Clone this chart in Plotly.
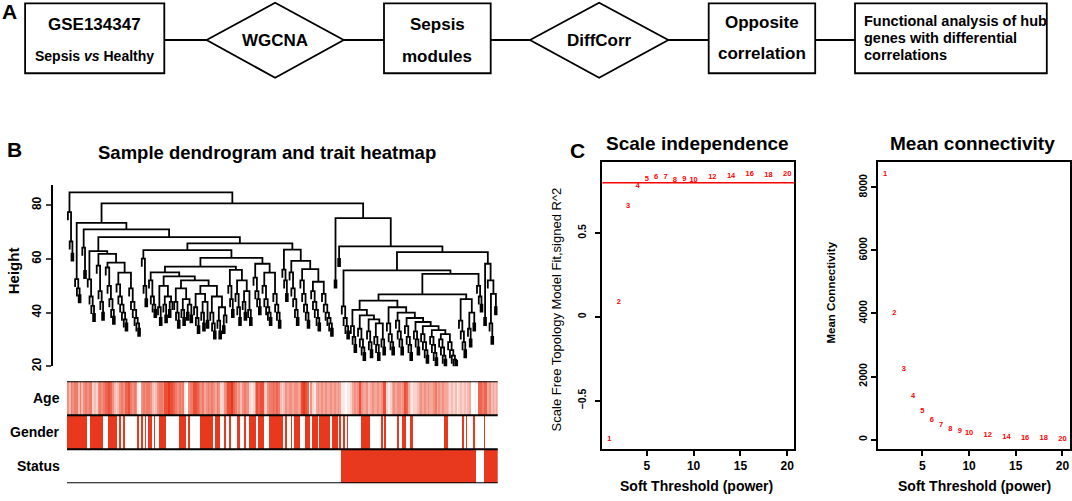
import plotly.graph_objects as go

# ------------------------------------------------------------------ DATA
# Panel C: soft-threshold analysis
POWERS = [1, 2, 3, 4, 5, 6, 7, 8, 9, 10, 12, 14, 16, 18, 20]
SFT_R2 = [-0.728, 0.089, 0.657, 0.777, 0.820, 0.832, 0.830, 0.816, 0.822, 0.815,
          0.834, 0.840, 0.850, 0.842, 0.852]
MEAN_K = [8425, 4000, 2239, 1382, 911, 628, 461, 336, 262, 210, 126, 73, 52, 31, 22]
R2_CUT = 0.8

SI_XTICKS = [5, 10, 15, 20]
SI_YTICKS = [-0.5, 0, 0.5]
MC_YTICKS = [0, 2000, 4000, 6000, 8000]
DENDRO_YTICKS = [20, 40, 60, 80]

# Panel A: flow chart texts
FLOW_BOX1 = ["GSE134347", "Sepsis <i>vs</i> Healthy"]
FLOW_DIAMOND1 = "WGCNA"
FLOW_BOX2 = ["Sepsis", "modules"]
FLOW_DIAMOND2 = "DiffCorr"
FLOW_BOX3 = ["Opposite", "correlation"]
FLOW_BOX4 = ["Functional analysis of hub", "genes with differential", "correlations"]

# Panel B: trait heatmap (one value per sample, in dendrogram order)
TRAIT_NAMES = ["Status", "Gender", "Age"]
AGE_LEVELS = ("5365663635" "6566232565" "6778753235" "6577865651" "0565665323"
              "5665889887" "6565610566" "8876564565" "6546522568" "8976453565"
              "5212587883" "2566767632" "3545545545" "8987052145" "4545445454"
              "5411011245" "4585445345" "4454588212" "4545545874" "2122345454"
              "5445645454" "4323231232" "3234001077" "677453434")
GENDER_FIRST = 1
GENDER_RUNS = [11, 2, 7, 3, 5, 1, 1, 1, 1, 7,
               1, 1, 1, 1, 1, 1, 2, 1, 1, 2,
               4, 7, 4, 1, 1, 6,
               7, 1, 3, 2, 1, 2, 1, 3, 2, 2, 1, 2, 4, 1, 3, 3,
               8, 1, 1, 2, 1, 1, 3, 3, 3, 1, 3, 1, 6, 1, 3, 1, 1, 1, 1, 1, 1,
               7, 5, 6, 1, 1, 1, 6, 1, 2, 2, 2, 2, 17, 2, 8, 1, 1, 1, 3, 1, 5, 1, 7]
STATUS_FIRST = 0
STATUS_RUNS = [152, 75, 4, 8]

# Panel B: dendrogram merge heights (clusters listed left to right)
ROOT_H = 84.8
L0 = [77.4, 66.5, 62.0]
LEFT_TOP_H = [80.7, 73.4, 71.0, 68.1]
A1 = [52.5, 49, 46.5]
A2 = [64.2, 55.5]
B_NODE_H = [62.9, 61.9, 58.6, 54.9]
B1 = [52.4, 46, 42.5, 39.5]
B2 = [57.5, 48, 44, 40]
B3 = [56.8, 50, 45, 41, 38.5]
B4 = [50.5, 46, 43, 40, 37.5, 36]
B5 = [49, 44, 41, 38, 36, 34]
MID_NODE_H = [65.8, 63.3, 60.4, 57.1]
D1 = [60.1, 50, 45]
E_NODE_H = [55.0, 53.5, 52.0, 50.0]
E1 = [52, 46, 43, 41]
E2_STEPS = [50, 46, 44]
E2_PARTS = [[42, 38], [43, 39], [41], []]
E3_STEPS = [49, 45, 43]
E3_PARTS = [[44, 40, 37], [41, 38], [40], [39]]
E4_STEPS = [47, 44]
E4_PARTS = [[42, 38, 35], [40, 36], [37]]
E5_STEPS = [46, 42, 39]
E5_PARTS = [[40, 36, 33], [37, 33], [35], []]
F_STEPS = [55.9, 52, 48]
F_PARTS = [[50, 45, 41], [47, 42, 38], [44, 40], [41, 38]]
G_NODE_H = [58.2, 54.9]
G1 = [53, 48, 45, 42]
G2 = [50, 45, 42, 40, 38]
G3 = [47, 43, 40, 37]
H_NODE_H = [63.5, 59.3, 56.2, 51.5]
H1 = [56, 52, 47]
H2 = [55, 49, 45, 41, 38]
H3 = [52, 47, 43, 40, 37]
H4A = [48, 44, 41, 38, 36]
H4B = [47, 43, 40, 38, 36, 34]
RIGHT_NODE_H = [75.2, 64.7, 62.5, 55.7, 54.4, 46.8, 44.5]
R0 = [52]
R1 = [60]
S1 = [42.3, 38, 35, 33]
T1_STEPS = [41, 39, 37.5, 36]
T1_PARTS = [[35, 31, 28], [34, 30, 27, 25], [33, 29, 26], [31, 28, 25], [30, 27]]
T2_STEPS = [42, 40, 38, 36.5, 35, 33.5, 32]
T2_PARTS = [[36, 32, 29, 27], [37, 33, 30, 27], [35, 31, 28, 25], [33, 30, 27],
            [32, 29, 26, 24], [31, 28, 25, 23], [30, 27, 24, 22.5], [29, 26, 24, 22.5, 22]]
U_STEPS = [45, 40, 36]
U_PARTS = [[37, 33, 29, 26], [34, 30], [], []]
V = [50, 46, 43]
W_STEPS = [58.2, 52, 47, 42]
W_PARTS = [[38], [], [36, 31], [], []]

# ------------------------------------------------------------------ TREE BUILDING
LEAF = 0


def comb(hs):
    if not hs:
        return LEAF
    node = (hs[-1], LEAF, LEAF)
    for h in reversed(hs[:-1]):
        node = (h, LEAF, node)
    return node


def stair(hs, parts):
    node = (hs[-1], parts[-2], parts[-1])
    for i in range(len(hs) - 2, -1, -1):
        node = (hs[i], parts[i], node)
    return node


def stair_of_combs(hs, part_lists):
    return stair(hs, [comb(p) for p in part_lists])


B_grp = (B_NODE_H[0], comb(B1), (B_NODE_H[1], comb(B2), (B_NODE_H[2], comb(B3),
                                                            (B_NODE_H[3], comb(B4), comb(B5)))))
E_grp = (E_NODE_H[0], comb(E1),
         (E_NODE_H[1], stair_of_combs(E2_STEPS, E2_PARTS),
          (E_NODE_H[2], stair_of_combs(E3_STEPS, E3_PARTS),
           (E_NODE_H[3], stair_of_combs(E4_STEPS, E4_PARTS), stair_of_combs(E5_STEPS, E5_PARTS)))))
F_grp = stair_of_combs(F_STEPS, F_PARTS)
G_grp = (G_NODE_H[0], comb(G1), (G_NODE_H[1], comb(G2), comb(G3)))
H_grp = (H_NODE_H[0], comb(H1), (H_NODE_H[1], comb(H2),
                                   (H_NODE_H[2], comb(H3), (H_NODE_H[3], comb(H4A), comb(H4B)))))
MID = (MID_NODE_H[0], (MID_NODE_H[1], comb(D1), (MID_NODE_H[2], (MID_NODE_H[3], E_grp, F_grp), G_grp)), H_grp)
LEFT = (LEFT_TOP_H[1], comb(A1), (LEFT_TOP_H[2], comb(A2), (LEFT_TOP_H[3], B_grp, MID)))
T_grp = (RIGHT_NODE_H[6], stair_of_combs(T1_STEPS, T1_PARTS), stair_of_combs(T2_STEPS, T2_PARTS))
RIGHT = (RIGHT_NODE_H[0], comb(R0),
         (RIGHT_NODE_H[1], comb(R1),
          (RIGHT_NODE_H[2],
           (RIGHT_NODE_H[3], comb(S1),
            (RIGHT_NODE_H[4], (RIGHT_NODE_H[5], T_grp, stair_of_combs(U_STEPS, U_PARTS)), comb(V))),
           stair_of_combs(W_STEPS, W_PARTS))))
TREE = (ROOT_H, comb(L0), (LEFT_TOP_H[0], LEFT, RIGHT))

HANG = 3.0
seg_x, seg_y = [], []
counter = [0]


def draw(node):
    if node == LEAF:
        x = counter[0]
        counter[0] += 1
        return x, None
    h, a, b = node
    xa, ha = draw(a)
    xb, hb = draw(b)
    ya = ha if ha is not None else h - HANG
    yb = hb if hb is not None else h - HANG
    seg_x.extend([xa, xa, xb, xb, None])
    seg_y.extend([ya, h, h, yb, None])
    return (xa + xb) / 2.0, h


draw(TREE)
N = counter[0]


def expand(first, runs, n):
    vals, v = [], first
    for r in runs:
        vals += [v] * r
        v = 1 - v
    vals = (vals + [vals[-1]] * n)[:n]
    return vals


age = [int(c) / 9.0 for c in AGE_LEVELS][:N]
gender = expand(GENDER_FIRST, GENDER_RUNS, N)
status = expand(STATUS_FIRST, STATUS_RUNS, N)

# ------------------------------------------------------------------ FIGURE
W, H = 1072, 501
FONT = "Liberation Sans, Arial, sans-serif"
RED = "#E8391E"


def px(x):
    return x / W


def py(y):
    return 1 - y / H


fig = go.Figure()

fig.add_trace(go.Scatter(x=seg_x, y=seg_y, mode="lines", xaxis="x", yaxis="y",
                         line=dict(color="black", width=1.8), hoverinfo="skip", showlegend=False))

fig.add_trace(go.Heatmap(z=[status, gender, age], x=list(range(N)), y=[0, 1, 2],
                         xaxis="x2", yaxis="y2", zmin=0, zmax=1,
                         colorscale=[[0, "#FFFFFF"], [1, RED]], showscale=False))

fig.add_trace(go.Scatter(x=POWERS, y=SFT_R2, mode="text", text=[str(p) for p in POWERS],
                         textfont=dict(color="#FF0000", size=7.5, family=FONT, weight="bold"),
                         xaxis="x3", yaxis="y3", showlegend=False))
fig.add_trace(go.Scatter(x=POWERS, y=MEAN_K, mode="text", text=[str(p) for p in POWERS],
                         textfont=dict(color="#FF0000", size=7.5, family=FONT, weight="bold"),
                         xaxis="x4", yaxis="y4", showlegend=False))

box_axis = dict(showline=True, mirror=True, linecolor="black", linewidth=2, ticks="outside",
                ticklen=5, tickwidth=1.5, tickcolor="black", showgrid=False, zeroline=False)

fig.update_layout(
    width=W, height=H, margin=dict(l=0, r=0, t=0, b=0),
    paper_bgcolor="white", plot_bgcolor="white", showlegend=False,
    font=dict(family=FONT, color="black"),
    xaxis=dict(domain=[px(67), px(497.7)], range=[-0.5, N - 0.5], visible=False, anchor="y"),
    yaxis=dict(domain=[py(370), py(186.7)], range=[20, 87.6], anchor="free", position=px(51.7),
               showline=True, linecolor="black", linewidth=1.5, ticks="outside", ticklen=5,
               tickwidth=1.5, tickvals=DENDRO_YTICKS, tickangle=-90, showgrid=False, zeroline=False,
               tickfont=dict(size=12, family=FONT, weight="bold")),
    xaxis2=dict(domain=[px(67), px(497.7)], range=[-0.5, N - 0.5], visible=False, anchor="y2"),
    yaxis2=dict(domain=[py(488), py(385)], range=[-0.5, 2.5], visible=False, anchor="x2"),
    xaxis3=dict(domain=[px(602.3), px(794.3)], range=[0.24, 20.76], tickvals=SI_XTICKS,
                anchor="y3", tickfont=dict(size=12, family=FONT, weight="bold"), **box_axis),
    yaxis3=dict(domain=[py(453.3), py(163.3)], range=[-0.787, 0.925], tickvals=SI_YTICKS,
                anchor="x3", tickangle=-90, ticklabelstandoff=5,
                tickfont=dict(size=10.5, family=FONT, weight="bold"), **box_axis),
    xaxis4=dict(domain=[px(878), px(1069.5)], range=[0.24, 20.76], tickvals=SI_XTICKS,
                anchor="y4", tickfont=dict(size=12, family=FONT, weight="bold"), **box_axis),
    yaxis4=dict(domain=[py(453.3), py(163.3)], range=[-292, 8814], tickvals=MC_YTICKS,
                anchor="x4", tickangle=-90,
                tickfont=dict(size=10.5, family=FONT, weight="bold"), **box_axis),
)

shapes = []
# heatmap row separators
for yb in [-0.5, 0.5, 1.5, 2.5]:
    shapes.append(dict(type="line", xref="x2 domain", yref="y2", x0=0, x1=1, y0=yb, y1=yb,
                       line=dict(color="black", width=2)))
# scale independence cut line
shapes.append(dict(type="line", xref="x3 domain", yref="y3", x0=0, x1=1, y0=R2_CUT, y1=R2_CUT,
                   line=dict(color="#FF0000", width=1.5)))

# flow chart (layout geometry in pixels)
LW = 1.8
FL_TOP, FL_BOT, FL_MID = 3.4, 74.0, 40.4
D_TOP, D_BOT = 2.8, 78.6
boxes = [(25.1, 164.3), (384.0, 490.7), (708.7, 815.2), (855.0, 1046.8)]
diamonds = [(206.6, 343.7), (530.0, 668.3)]
for x0, x1 in boxes:
    shapes.append(dict(type="rect", xref="paper", yref="paper", x0=px(x0), x1=px(x1),
                       y0=py(FL_BOT), y1=py(FL_TOP), line=dict(color="black", width=LW)))
for x0, x1 in diamonds:
    xc = (x0 + x1) / 2
    path = (f"M {px(x0)},{py(FL_MID)} L {px(xc)},{py(D_TOP)} L {px(x1)},{py(FL_MID)} "
            f"L {px(xc)},{py(D_BOT)} Z")
    shapes.append(dict(type="path", xref="paper", yref="paper", path=path,
                       line=dict(color="black", width=LW)))
links = [(164.3, 206.6), (343.7, 384.0), (490.7, 530.0), (668.3, 708.7), (815.2, 855.0)]
for x0, x1 in links:
    shapes.append(dict(type="line", xref="paper", yref="paper", x0=px(x0), x1=px(x1),
                       y0=py(FL_MID), y1=py(FL_MID), line=dict(color="black", width=LW)))
fig.update_layout(shapes=shapes)

ann = []


def A(text, x, y, size, bold=True, angle=0, xanchor="center", yanchor="middle", xref="paper",
      yref="paper", xv=None, yv=None):
    t = f"<b>{text}</b>" if bold else text
    ann.append(dict(text=t, x=xv if xv is not None else px(x), y=yv if yv is not None else py(y),
                    xref=xref, yref=yref, showarrow=False, textangle=angle,
                    xanchor=xanchor, yanchor=yanchor,
                    font=dict(size=size, family=FONT, color="black")))


# panel letters
A("A", 9, 12, 21)
A("B", 14, 151.5, 21)
A("C", 577, 152, 21)
# flow chart text
A(FLOW_BOX1[0], 94.7, 24.8, 17)
A(FLOW_BOX1[1], 94.7, 56.8, 14)
A(FLOW_DIAMOND1, 275.2, 40.6, 17)
A(FLOW_BOX2[0], 437.3, 24.8, 17)
A(FLOW_BOX2[1], 437.3, 56.8, 17)
A(FLOW_DIAMOND2, 599.1, 40.6, 17)
A(FLOW_BOX3[0], 762.0, 22.5, 17)
A(FLOW_BOX3[1], 762.0, 54.3, 17)
for i, line in enumerate(FLOW_BOX4):
    A(line, 861.5, [21.4, 38.7, 55.3][i], 14.5, xanchor="left")
# panel B
A("Sample dendrogram and trait heatmap", 266.7, 154, 18.5)
A("Height", 13, 274, 15, angle=-90)
for i, name in enumerate(TRAIT_NAMES):
    A(name, 62, 0, 14, xanchor="right", yref="y2", yv=i)
# panel C
A("Scale independence", 697, 145, 19)
A("Mean connectivity", 972, 145, 19)
A("Soft Threshold (power)", 696, 490.5, 14)
A("Soft Threshold (power)", 974, 490.5, 14)
A("Scale Free Topology Model Fit,signed R^2", 556, 312.5, 13, bold=False, angle=-90)
A("Mean Connectivity", 831.5, 296, 11.5, angle=-90)
fig.update_layout(annotations=ann)

fig.write_html("out.html", config={"displayModeBar": False},
               post_script="document.body.style.margin='0px';")
